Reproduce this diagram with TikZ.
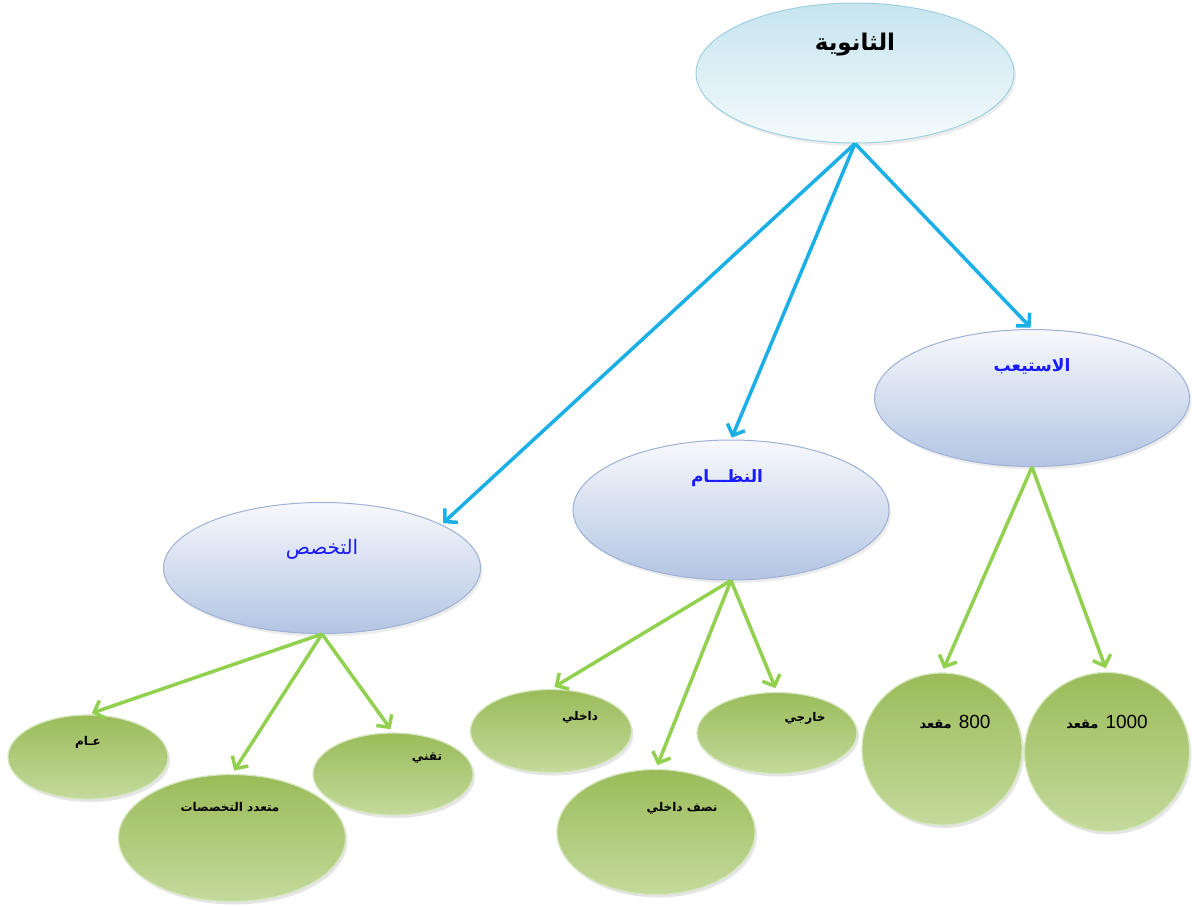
\documentclass[tikz,border=0pt]{standalone}
\usepackage{fontspec}
\setmainfont{Liberation Sans}
\newfontfamily\arabicfont[Script=Arabic]{DejaVu Sans}
\TeXXeTstate=1
\usetikzlibrary{shapes.geometric,arrows.meta,shadows}
\definecolor{bluearrow}{HTML}{1AAFE6}
\definecolor{greenarrow}{HTML}{92D050}
\definecolor{topfillA}{HTML}{C6E4EF}
\definecolor{topfillB}{HTML}{F4FAFC}
\definecolor{topline}{HTML}{9FD0E2}
\definecolor{midfillA}{HTML}{F7F8FC}
\definecolor{midfillB}{HTML}{B3C5E3}
\definecolor{midline}{HTML}{9DB1D6}
\definecolor{leafA}{HTML}{9BBB59}
\definecolor{leafB}{HTML}{C4DA9C}
\definecolor{leafline}{HTML}{D6E6BE}
\definecolor{labelblue}{HTML}{1A1AFF}
\tikzset{
  topell/.style={ellipse, draw=topline, line width=1pt, top color=topfillA, bottom color=topfillB, drop shadow={opacity=0.15, shadow xshift=2pt, shadow yshift=-3pt}},
  midell/.style={ellipse, draw=midline, line width=1pt, top color=midfillA, bottom color=midfillB, drop shadow={opacity=0.15, shadow xshift=2pt, shadow yshift=-3pt}},
  leaf/.style={ellipse, draw=leafline, line width=1.2pt, top color=leafA, bottom color=leafB, drop shadow={opacity=0.2, shadow xshift=2pt, shadow yshift=-3pt}},
  bluearr/.style={draw=bluearrow, line width=3.5pt, -{Straight Barb[length=9pt,width=19pt]}, shorten >=2pt},
  greenarr/.style={draw=greenarrow, line width=3.5pt, -{Straight Barb[length=9pt,width=19pt]}, shorten >=4pt},
  toptxt/.style={font=\arabicfont\bfseries\fontsize{23}{26}\selectfont, text=black},
  midtxt/.style={font=\arabicfont\bfseries\fontsize{17}{20}\selectfont, text=labelblue},
  midtxtn/.style={font=\arabicfont\fontsize{20}{22}\selectfont, text=labelblue},
  leaftxt/.style={font=\arabicfont\bfseries\fontsize{12}{14}\selectfont, text=black},
  numtxt/.style={font=\fontsize{19}{22}\selectfont, text=black}
}
\begin{document}
\begin{tikzpicture}[x=1pt,y=-1pt]
\useasboundingbox[fill=white] (0,0) rectangle (1192,906);
% main ellipses
\node[topell, minimum width=318pt, minimum height=140pt] (top) at (855,73) {};
\node[midell, minimum width=315pt, minimum height=137pt] (ist) at (1032,398) {};
\node[midell, minimum width=316pt, minimum height=140pt] (niz) at (731,510) {};
\node[midell, minimum width=317pt, minimum height=131pt] (tak) at (322,568) {};
% leaves
\node[leaf, minimum width=160pt, minimum height=84pt] (aam) at (88,757) {};
\node[leaf, minimum width=227pt, minimum height=127pt] (mut) at (232,838) {};
\node[leaf, minimum width=160pt, minimum height=82pt] (taq) at (393,774) {};
\node[leaf, minimum width=161pt, minimum height=83pt] (dak) at (551,731) {};
\node[leaf, minimum width=198pt, minimum height=125pt] (nis) at (656,832) {};
\node[leaf, minimum width=160pt, minimum height=81pt] (kha) at (777,733) {};
\node[leaf, minimum width=160pt, minimum height=152pt] (e800) at (942,749) {};
\node[leaf, minimum width=165pt, minimum height=159pt] (e1000) at (1107,752) {};
% labels
\node[toptxt] (ttop) at (855,45) {\beginR الثانوية\endR};
\node[midtxt] (tist) at (1032,366) {\beginR الاستيعب\endR};
\node[midtxt] (tniz) at (727,478) {\beginR النظـــام\endR};
\node[midtxtn] (ttak) at (322,549) {\beginR التخصص\endR};
\node[leaftxt] (taam) at (88,742) {\beginR عـام\endR};
\node[leaftxt] (tmut) at (230,807) {\beginR متعدد التخصصات\endR};
\node[leaftxt] (ttaq) at (427,758) {\beginR تقني\endR};
\node[leaftxt] (tdak) at (580,717) {\beginR داخلي\endR};
\node[leaftxt] (tkha) at (805,718) {\beginR خارجي\endR};
\node[leaftxt] (tnis) at (682,808) {\beginR نصف داخلي\endR};
\node[numtxt] (t800) at (955,722) {{\arabicfont\bfseries\fontsize{13}{15}\selectfont\beginR مقعد\endR}\hspace{7pt}800};
\node[numtxt] (t1000) at (1107,722) {{\arabicfont\bfseries\fontsize{13}{15}\selectfont\beginR مقعد\endR}\hspace{7pt}1000};
% blue arrows
\draw[bluearr] (top.south) -- (tak.20);
\draw[bluearr] (top.south) -- (niz.north);
\draw[bluearr] (top.south) -- (ist.north);
% green arrows
\draw[greenarr] (tak.south) -- (aam.north);
\draw[greenarr] (tak.south) -- (mut.north);
\draw[greenarr] (tak.south) -- (taq.north);
\draw[greenarr] (niz.south) -- (dak.north);
\draw[greenarr] (niz.south) -- (nis.north);
\draw[greenarr] (niz.south) -- (kha.north);
\draw[greenarr] (ist.south) -- (e800.north);
\draw[greenarr] (ist.south) -- (e1000.north);
\end{tikzpicture}
\end{document}
